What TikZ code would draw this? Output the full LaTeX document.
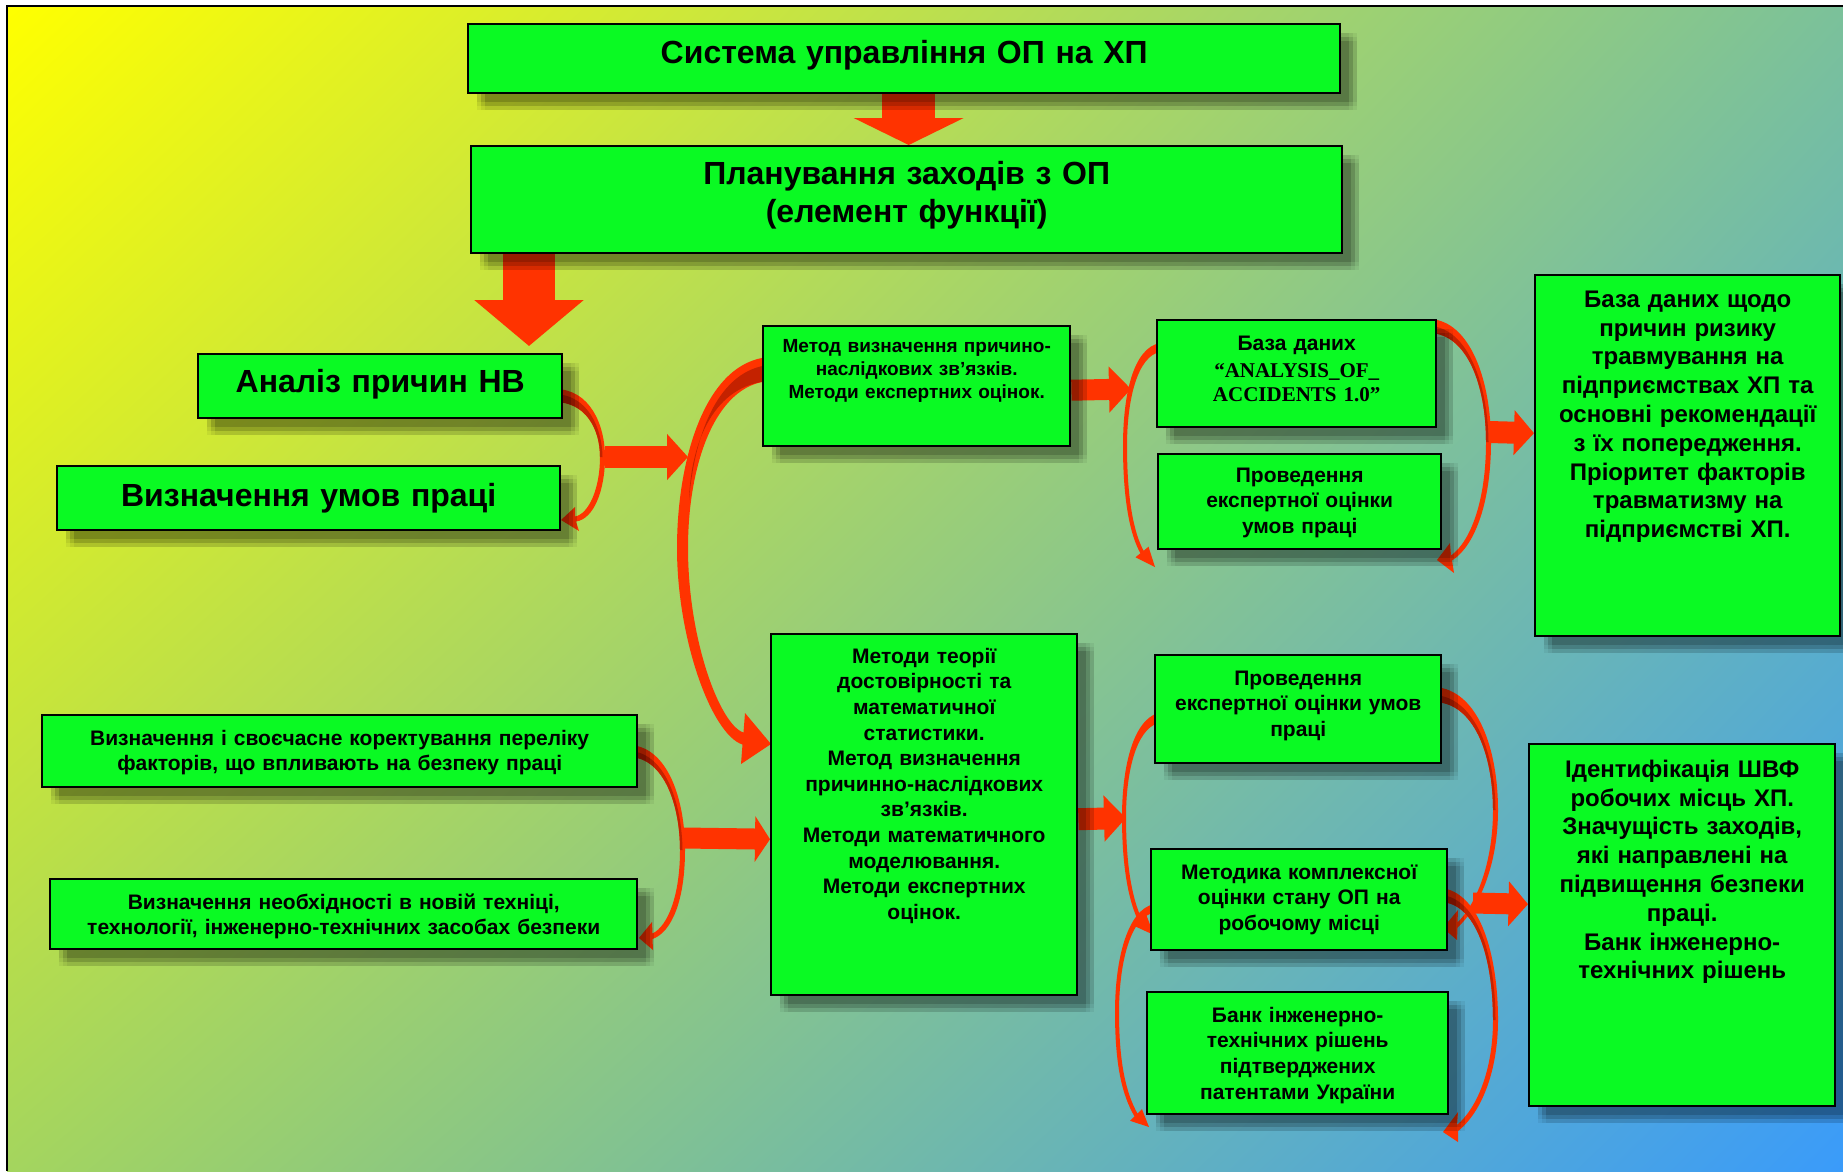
\documentclass[tikz,border=0pt]{standalone}
\usepackage{fontspec}
\setmainfont{Liberation Sans}
\newfontfamily\timesfont{Liberation Serif}
\usetikzlibrary{arrows.meta,shadows,shadings,positioning}

\definecolor{boxgreen}{RGB}{10,250,35}
\definecolor{arrowred}{RGB}{255,51,0}
\definecolor{arrowdark}{RGB}{196,34,0}
\definecolor{bgyellow}{RGB}{255,255,0}
\definecolor{bgteal}{RGB}{123,193,154}
\definecolor{bglime}{RGB}{164,213,94}
\definecolor{bgblue}{RGB}{58,155,250}

\pgfdeclarelayer{bg}
\pgfdeclarelayer{arrows}
\pgfsetlayers{bg,arrows,main}

\tikzset{
  softshadow/.style={
    drop shadow={shadow xshift=9pt, shadow yshift=-9pt, opacity=.055, fill=black},
    drop shadow={shadow xshift=13pt, shadow yshift=-9pt, opacity=.055, fill=black},
    drop shadow={shadow xshift=17pt, shadow yshift=-9pt, opacity=.055, fill=black},
    drop shadow={shadow xshift=9pt, shadow yshift=-13pt, opacity=.055, fill=black},
    drop shadow={shadow xshift=13pt, shadow yshift=-13pt, opacity=.055, fill=black},
    drop shadow={shadow xshift=17pt, shadow yshift=-13pt, opacity=.055, fill=black},
    drop shadow={shadow xshift=9pt, shadow yshift=-17pt, opacity=.055, fill=black},
    drop shadow={shadow xshift=13pt, shadow yshift=-17pt, opacity=.055, fill=black},
    drop shadow={shadow xshift=17pt, shadow yshift=-17pt, opacity=.055, fill=black}},
  box/.style={draw=black, line width=2.4pt, fill=boxgreen, inner sep=0pt,
    anchor=north west, align=center, softshadow},
  txtbig/.style={font=\fontsize{32}{38}\selectfont\bfseries},
  txtmid/.style={font=\fontsize{21}{25.6}\selectfont\bfseries},
  txtsmall/.style={font=\fontsize{19}{23}\selectfont\bfseries},
  txtwide/.style={font=\fontsize{24}{28.8}\selectfont\bfseries},
  block/.style={draw=arrowred, line cap=butt},
  curvearrow/.style={fill=arrowred},
  curvedark/.style={fill=arrowdark}
}

\begin{document}
\begin{tikzpicture}[x=1pt, y=-1pt]
\useasboundingbox (0,0) rectangle (1843,1171);

\begin{pgfonlayer}{bg}
\fill[white] (0,0) rectangle (1843,1171);
\shade[upper left=bgyellow, upper right=bgteal, lower left=bglime, lower right=bgblue]
  (7,6) rectangle (1843,1171);
\draw[line width=2.5pt] (7,1171) -- (7,6) -- (1843,6);
\end{pgfonlayer}

% top of the scheme
\node[box, txtbig, minimum width=872pt, text width=864pt, text height=39pt, text depth=30pt] (1) at (467,23) {Система управління ОП на ХП};
\node[box, txtbig, minimum width=871pt, text width=863pt, text height=38pt, text depth=69pt] (2) at (470,145) {Планування заходів з ОП\\(елемент функції)};
\node[box, txtbig, minimum width=364pt, text width=356pt, text height=38pt, text depth=26pt] (3) at (197,353) {Аналіз причин НВ};
\node[box, txtbig, minimum width=503pt, text width=495pt, text height=40pt, text depth=24pt] (4) at (56,465) {Визначення умов праці};

% upper branch
\node[box, txtsmall, minimum width=307pt, text width=301pt, text height=26pt, text depth=94pt] (5) at (762,325) {Метод визначення причино-\\наслідкових зв’язків.\\Методи експертних оцінок.};
\node[box, txtmid, minimum width=279pt, text width=273pt, text height=30pt, text depth=77pt, font=\fontsize{21}{23.5}\selectfont\bfseries] (6) at (1156,319) {База даних\\[4pt]\timesfont “ANALYSIS\_OF\_\\ACCIDENTS 1.0”};
\node[box, txtmid, minimum width=283pt, text width=279pt, text height=28pt, text depth=67pt] (7) at (1157,453) {Проведення\\експертної оцінки\\умов праці};
\node[box, txtwide, minimum width=305pt, text width=299pt, text height=32pt, text depth=329pt] (8) at (1534,274) {База даних щодо\\причин ризику\\травмування на\\підприємствах ХП та\\основні рекомендації\\з їх попередження.\\Пріоритет факторів\\травматизму на\\підприємстві ХП.};

% lower branch
\node[box, txtmid, minimum width=595pt, text width=589pt, text height=30pt, text depth=42pt] (9) at (41,714) {Визначення і своєчасне коректування переліку\\факторів, що впливають на безпеку праці};
\node[box, txtmid, minimum width=587pt, text width=581pt, text height=30pt, text depth=40pt] (10) at (49,878) {Визначення необхідності в новій техніці,\\технології, інженерно-технічних засобах безпеки};
\node[box, txtmid, minimum width=306pt, text width=300pt, text height=29pt, text depth=332pt] (11) at (770,633) {Методи теорії\\достовірності та\\математичної\\статистики.\\Метод визначення\\причинно-наслідкових\\зв’язків.\\Методи математичного\\моделювання.\\Методи експертних\\оцінок.};
\node[box, txtmid, minimum width=286pt, text width=282pt, text height=30pt, text depth=78pt] (12) at (1154,654) {Проведення\\експертної оцінки умов\\праці};
\node[box, txtmid, minimum width=296pt, text width=290pt, text height=30pt, text depth=71pt] (13) at (1150,848) {Методика комплексної\\оцінки стану ОП на\\робочому місці};
\node[box, txtmid, minimum width=301pt, text width=295pt, text height=30pt, text depth=92pt] (14) at (1146,991) {Банк інженерно-\\технічних рішень\\підтверджених\\патентами України};
\node[box, txtwide, minimum width=306pt, text width=300pt, text height=33pt, text depth=329pt] (15) at (1528,743) {Ідентифікація ШВФ\\робочих місць ХП.\\Значущість заходів,\\які направлені на\\підвищення безпеки\\праці.\\Банк інженерно-\\технічних рішень};

\coordinate (t1) at (605,457);
\coordinate (t2) at (688,457);
\coordinate (t3) at (1131,389);
\coordinate (t4) at (1489,432);
\coordinate (t5) at (684,838);
\coordinate (t6) at (1126,818);
\coordinate (t7) at (1473,903);

\begin{pgfonlayer}{arrows}
% block arrows
\draw[block, line width=52.5pt, -{Triangle[length=27pt, width=109pt]}] ([xshift=4.5pt]1.south) -- ([xshift=2pt]2.north);
\draw[block, line width=52pt, -{Triangle[length=46pt, width=107pt]}] ([xshift=59pt]2.south west) -- ([xshift=332pt, yshift=7pt]3.north west);
\draw[block, line width=22pt, -{Triangle[length=21pt, width=45pt]}] (t1) -- (t2);
\draw[block, line width=21pt, -{Triangle[length=22pt, width=45pt]}] ([yshift=-4pt]5.east) -- (t3);
\draw[block, line width=22pt, -{Triangle[length=20pt, width=44pt]}] (t4) -- ([yshift=22.5pt]8.west);
\draw[block, line width=21pt, -{Triangle[length=15pt, width=45pt]}] (t5) -- ([yshift=-24.5pt]11.west);
\draw[block, line width=22pt, -{Triangle[length=22pt, width=45pt]}] ([yshift=-4.5pt]11.east) -- (t6);
\draw[block, line width=21pt, -{Triangle[length=19.5pt, width=44pt]}] (t7) -- ([yshift=21pt]15.west);

% curved arrows
\fill[curvearrow] (555,389) .. controls (590,389) and (605,425) .. (605,457) .. controls (605,490) and (594,519) .. (576,521.5) -- (579,531) -- (561,520) -- (575,507) -- (575,516.5) .. controls (589,514) and (600,488) .. (600,457) .. controls (600,428) and (585,402) .. (555,402) -- cycle;
\fill[curvedark] (555,394) .. controls (588,395) and (602,428) .. (602.5,457) -- (600,457) .. controls (600,428) and (585,402) .. (555,402) -- cycle;

\fill[curvearrow] (769,357) .. controls (705,362) and (677,460) .. (677,548) .. controls (677,640) and (712,735) .. (742.5,744.5) -- (741,764) -- (771,744) -- (745,713) -- (743.5,732.5) .. controls (720,725) and (688,640) .. (688,548) .. controls (688,465) and (715,385) .. (769,381) -- cycle;
\fill[curvedark] (769,365) .. controls (720,370) and (695,430) .. (689,500) .. controls (691,440) and (715,385) .. (769,381) -- cycle;

\fill[curvearrow] (1160,343) .. controls (1133,348) and (1123,395) .. (1123,446) .. controls (1123,500) and (1130,535) .. (1140.4,553.2) -- (1135.5,557.3) -- (1155,567) -- (1148.5,546.7) -- (1143.6,550.8) .. controls (1134,533) and (1127,500) .. (1127,446) .. controls (1127,398) and (1138,356) .. (1160,352) -- cycle;

\fill[curvearrow] (1430,319) .. controls (1470,321) and (1491,380) .. (1491,442) .. controls (1491,500) and (1476,545) .. (1452,560.5) -- (1454,573) -- (1437,560) -- (1450,543) -- (1451,555.5) .. controls (1471,541) and (1486,500) .. (1486,442) .. controls (1486,385) and (1467,334) .. (1430,333) -- cycle;
\fill[curvedark] (1430,326) .. controls (1468,328) and (1488,385) .. (1488.5,442) -- (1486,442) .. controls (1486,385) and (1467,334) .. (1430,333) -- cycle;

\fill[curvearrow] (630,745) .. controls (668,747) and (685,800) .. (685,850) .. controls (685,900) and (672,932) .. (652.5,939) -- (653,950) -- (639,938) -- (652,922) -- (652.5,933.5) .. controls (668,926) and (680,895) .. (680,850) .. controls (680,805) and (664,758) .. (630,757) -- cycle;
\fill[curvedark] (630,751) .. controls (666,753) and (682,805) .. (682.5,850) -- (680,850) .. controls (680,805) and (664,758) .. (630,757) -- cycle;

\fill[curvearrow] (1158,713) .. controls (1132,721) and (1122,770) .. (1122,817) .. controls (1122,865) and (1128,900) .. (1138.5,921.4) -- (1134,925.8) -- (1154,935) -- (1146,914.2) -- (1141.5,918.6) .. controls (1132,898) and (1126,865) .. (1126,817) .. controls (1126,772) and (1136,730) .. (1158,723) -- cycle;

\fill[curvearrow] (1154,904) .. controls (1127,910) and (1115,960) .. (1115,1012) .. controls (1115,1065) and (1122,1095) .. (1134.5,1116.4) -- (1130,1120.8) -- (1149,1127) -- (1142,1109.2) -- (1137.5,1113.6) .. controls (1126,1093) and (1119,1063) .. (1119,1012) .. controls (1119,965) and (1130,916) .. (1154,913) -- cycle;

\fill[curvearrow] (1435,687) .. controls (1478,690) and (1498,750) .. (1498,810) .. controls (1498,860) and (1482,905) .. (1457.5,927.5) -- (1457,940) -- (1443,928) -- (1458,910) -- (1457.5,922.5) .. controls (1478,902) and (1493,860) .. (1493,810) .. controls (1493,755) and (1474,703) .. (1435,702) -- cycle;
\fill[curvedark] (1435,695) .. controls (1476,698) and (1495,755) .. (1495.5,810) -- (1493,810) .. controls (1493,755) and (1474,703) .. (1435,702) -- cycle;

\fill[curvearrow] (1441,888) .. controls (1480,892) and (1498,955) .. (1498,1020) .. controls (1498,1070) and (1482,1112) .. (1458,1131) -- (1458,1142) -- (1443,1132) -- (1458,1112) -- (1457,1125) .. controls (1477,1108) and (1493,1070) .. (1493,1020) .. controls (1493,958) and (1476,903) .. (1441,902) -- cycle;
\fill[curvedark] (1441,895) .. controls (1478,898) and (1495.5,958) .. (1495.5,1020) -- (1493,1020) .. controls (1493,958) and (1476,903) .. (1441,902) -- cycle;
\end{pgfonlayer}
\end{tikzpicture}
\end{document}
